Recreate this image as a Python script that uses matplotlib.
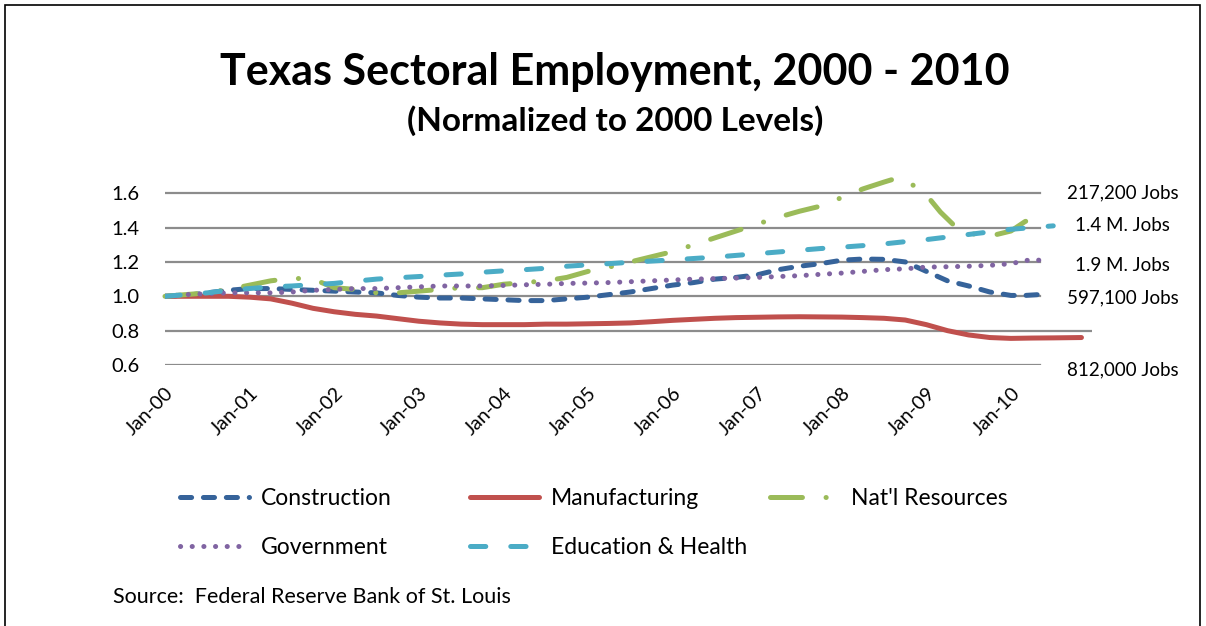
import matplotlib.pyplot as plt
from matplotlib.patches import Rectangle

plt.rcParams['font.family'] = ['Lato', 'DejaVu Sans']
plt.rcParams['lines.scale_dashes'] = False

# Months since Jan-2000 and normalized employment
constr_m = [0, 3, 6, 9, 12, 15, 18, 21, 24, 27, 30, 33, 36, 39, 42, 45, 48, 51, 54, 57,
            60, 63, 66, 69, 72, 75, 78, 81, 84, 87, 90, 93, 96, 99, 102, 105, 108, 111,
            114, 117, 120, 122, 124]
constr_v = [1.0, 1.005, 1.02, 1.035, 1.045, 1.045, 1.04, 1.035, 1.03, 1.025, 1.02, 1.005,
            0.995, 0.99, 0.99, 0.985, 0.98, 0.975, 0.975, 0.985, 0.995, 1.01, 1.025, 1.045,
            1.065, 1.08, 1.1, 1.11, 1.125, 1.155, 1.175, 1.19, 1.21, 1.217, 1.215, 1.2,
            1.145, 1.09, 1.06, 1.025, 1.005, 1.005, 1.01]

manuf_m = [0, 3, 6, 9, 12, 15, 18, 21, 24, 27, 30, 33, 36, 39, 42, 45, 48, 51, 54, 57,
           60, 63, 66, 69, 72, 75, 78, 81, 84, 87, 90, 93, 96, 99, 102, 105, 108, 111,
           114, 117, 120, 123, 126, 130]
manuf_v = [1.0, 1.0, 1.0, 1.0, 0.995, 0.985, 0.96, 0.93, 0.91, 0.895, 0.885, 0.87, 0.855,
           0.845, 0.838, 0.835, 0.835, 0.835, 0.838, 0.838, 0.84, 0.842, 0.845, 0.852,
           0.86, 0.866, 0.872, 0.876, 0.878, 0.88, 0.881, 0.88, 0.879, 0.876, 0.872,
           0.862, 0.835, 0.80, 0.775, 0.76, 0.755, 0.757, 0.758, 0.76]

natres_m = [0, 3, 6, 9, 12, 15, 18, 21, 24, 27, 30, 33, 36, 39, 42, 45, 48, 51, 54, 57,
            60, 63, 66, 69, 72, 75, 78, 81, 84, 87, 90, 93, 96, 99, 102, 104, 106, 108,
            110, 112, 114, 116, 118, 120, 122, 125]
natres_v = [1.0, 1.01, 1.02, 1.04, 1.065, 1.09, 1.105, 1.1, 1.05, 1.04, 1.02, 1.02, 1.03,
            1.04, 1.05, 1.05, 1.07, 1.08, 1.09, 1.11, 1.145, 1.17, 1.2, 1.23, 1.26, 1.30,
            1.34, 1.38, 1.42, 1.46, 1.495, 1.525, 1.575, 1.625, 1.665, 1.69, 1.65, 1.59,
            1.49, 1.41, 1.37, 1.35, 1.36, 1.38, 1.435, 1.48]

gov_m = [0, 3, 6, 9, 12, 15, 18, 21, 24, 27, 30, 33, 36, 39, 42, 45, 48, 51, 54, 57, 60,
         63, 66, 69, 72, 75, 78, 81, 84, 87, 90, 93, 96, 99, 102, 105, 108, 111, 114, 117,
         120, 123, 125]
gov_v = [1.0, 1.01, 1.015, 1.02, 1.02, 1.02, 1.025, 1.035, 1.04, 1.045, 1.045, 1.05, 1.055,
         1.06, 1.06, 1.06, 1.063, 1.067, 1.07, 1.075, 1.077, 1.08, 1.085, 1.09, 1.095, 1.1,
         1.103, 1.106, 1.11, 1.115, 1.12, 1.128, 1.135, 1.145, 1.155, 1.16, 1.17, 1.172,
         1.175, 1.18, 1.19, 1.215, 1.205]

edu_m = [0, 3, 6, 9, 12, 15, 18, 21, 24, 27, 30, 33, 36, 39, 42, 45, 48, 51, 54, 57, 60,
         63, 66, 69, 72, 75, 78, 81, 84, 87, 90, 93, 96, 99, 102, 105, 108, 111, 114, 117,
         120, 123, 126]
edu_v = [1.0, 1.01, 1.02, 1.035, 1.045, 1.055, 1.06, 1.068, 1.075, 1.088, 1.1, 1.108, 1.115,
         1.123, 1.13, 1.14, 1.148, 1.155, 1.163, 1.175, 1.183, 1.19, 1.198, 1.205, 1.212,
         1.22, 1.228, 1.238, 1.248, 1.258, 1.268, 1.278, 1.286, 1.295, 1.305, 1.318, 1.33,
         1.345, 1.36, 1.375, 1.39, 1.4, 1.41]

tick_months = [0, 12, 24, 36, 48, 60, 72, 84, 96, 108, 120]
tick_labels = ['Jan-00', 'Jan-01', 'Jan-02', 'Jan-03', 'Jan-04', 'Jan-05',
               'Jan-06', 'Jan-07', 'Jan-08', 'Jan-09', 'Jan-10']
y_ticks = [0.6, 0.8, 1.0, 1.2, 1.4, 1.6]
end_labels = ['217,200 Jobs', '1.4 M. Jobs', '1.9 M. Jobs', '597,100 Jobs', '812,000 Jobs']
end_label_y = [1.6, 1.41, 1.18, 0.99, 0.57]

fig = plt.figure(figsize=(12.06, 6.26), dpi=100)
ax = fig.add_axes([0.1368, 0.4169, 0.7687, 0.3019])
ax.set_xlim(0, 131.5)
ax.set_ylim(0.6, 1.7)

# gridlines stop short of the end labels, except the 0.8 one
for y in y_ticks:
    xmax = 131.5 if y == 0.8 else 124.1
    ax.plot([0, xmax], [y, y], color='#8c8c8c', lw=1.6, zorder=1)

lw = 3.6
ax.plot(constr_m, constr_v, color='#36639a', lw=lw, dashes=(8, 8.5),
        dash_capstyle='round', label='Construction', zorder=3)
ax.plot(manuf_m, manuf_v, color='#c0504d', lw=lw, solid_capstyle='round',
        label='Manufacturing', zorder=3)
ax.plot(natres_m, natres_v, color='#9bbb59', lw=lw, dashes=(23, 17, 0.1, 17),
        dash_capstyle='round', label="Nat'l Resources", zorder=3, clip_on=False)
ax.plot(gov_m, gov_v, color='#8064a2', lw=lw, dashes=(0.1, 8.3),
        dash_capstyle='round', label='Government', zorder=4)
ax.plot(edu_m, edu_v, color='#4bacc6', lw=lw, dashes=(11, 18),
        dash_capstyle='round', label='Education & Health', zorder=5)

ax.set_yticks(y_ticks)
ax.set_yticklabels(['%.1f' % v for v in y_ticks], fontsize=14.5)
ax.set_xticks(tick_months)
ax.set_xticklabels(tick_labels, fontsize=14, rotation=45, ha='right', va='top',
                   rotation_mode='anchor')
ax.tick_params(length=0)
ax.tick_params(axis='x', pad=14)
ax.tick_params(axis='y', pad=18)
for s in ax.spines.values():
    s.set_visible(False)

for lab, y in zip(end_labels, end_label_y):
    ax.text(1.0 + 0.033, ax.transAxes.inverted().transform(ax.transData.transform((0, y)))[1],
            lab, transform=ax.transAxes, ha='center', va='center', fontsize=13.5)

# legend: one block per column, placed like the original
h, l = ax.get_legend_handles_labels()
columns = [([0, 3], 180), ([1, 4], 470), ([2], 770)]
for idx, xpx in columns:
    leg = fig.legend([h[i] for i in idx], [l[i] for i in idx], loc='upper left',
                     bbox_to_anchor=(xpx / 1206, 0.221), frameon=False,
                     fontsize=16.5, handlelength=3.0, labelspacing=1.22,
                     handletextpad=0.55, borderpad=0, borderaxespad=0)

fig.text(0.51, 0.885, 'Texas Sectoral Employment, 2000 - 2010', ha='center',
         va='center', fontsize=31, fontweight='bold')
fig.text(0.51, 0.807, '(Normalized to 2000 Levels)', ha='center', va='center',
         fontsize=24, fontweight='bold')
fig.text(0.094, 0.046, 'Source:  Federal Reserve Bank of St. Louis', ha='left',
         va='center', fontsize=15.5)

fig.patches.append(Rectangle((5 / 1206, -0.02), 1195 / 1206, 1.02 - 5 / 626,
                             transform=fig.transFigure, fill=False, ec='black',
                             lw=1.2))

plt.savefig('out.png', dpi=100)
